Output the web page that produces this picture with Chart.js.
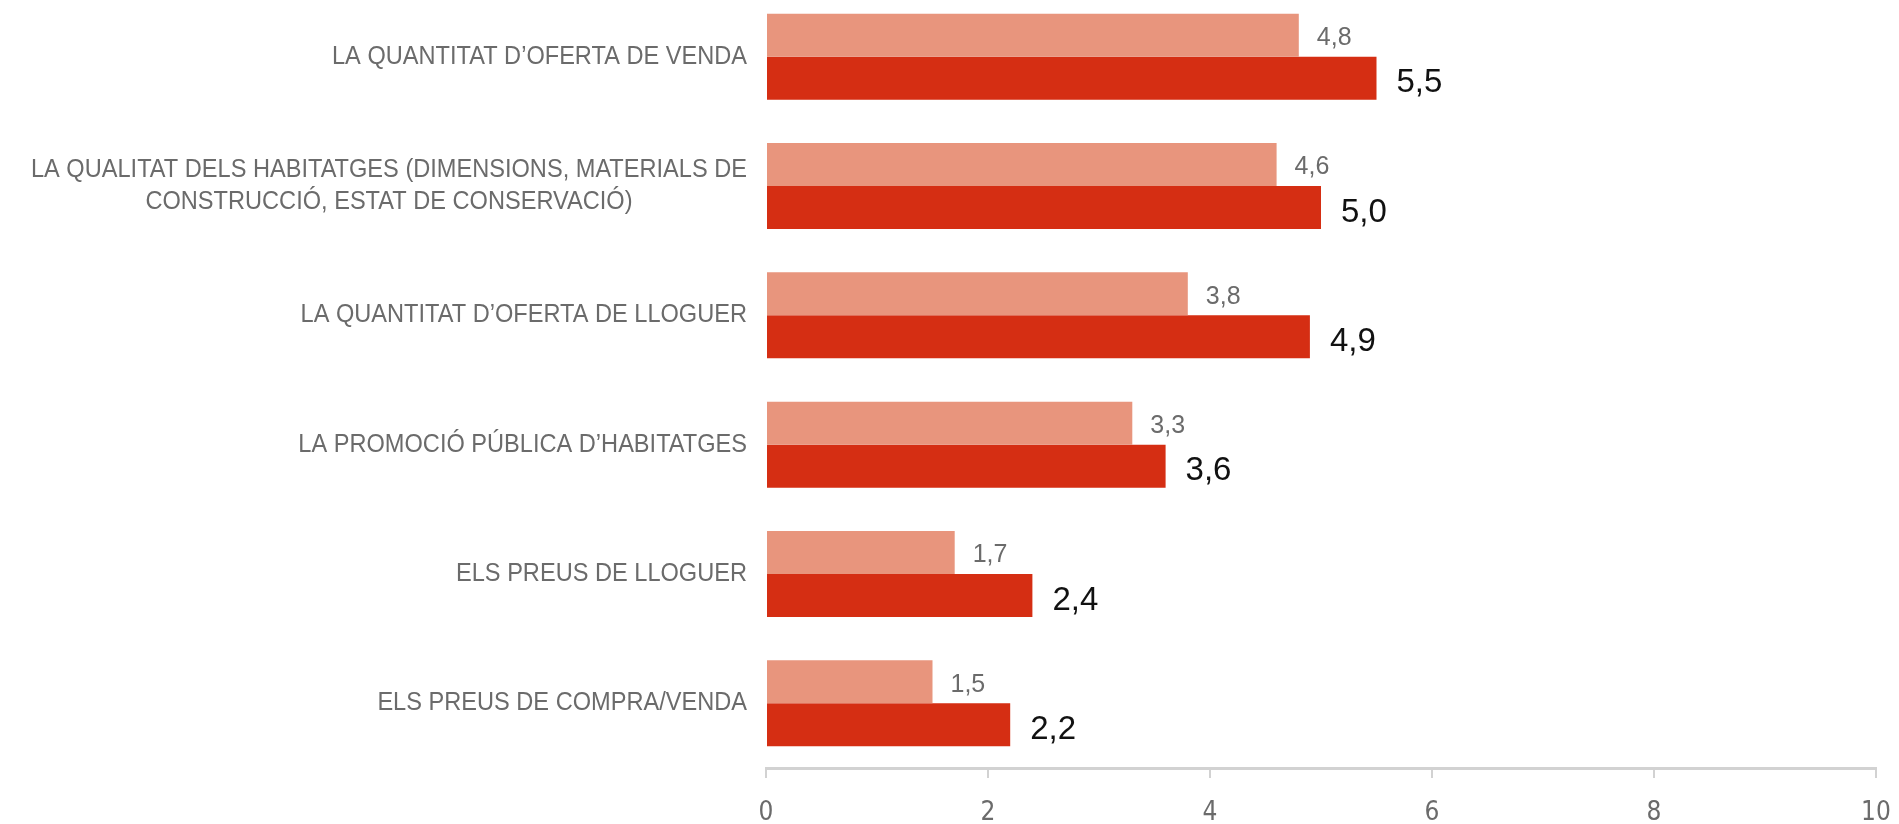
<!DOCTYPE html>
<html>
<head>
<meta charset="utf-8">
<script src="https://cdn.jsdelivr.net/npm/chart.js@4/dist/chart.umd.min.js"></script>
<style>
  html, body { margin: 0; padding: 0; background: #fff; overflow: hidden; }
  #wrap { position: absolute; left: 0; top: -8px; width: 1899px; height: 832px; }
</style>
</head>
<body>
<div id="wrap"><canvas id="chart"></canvas></div>
<script>
// Categories (one label may span two lines)
const categories = [
    ['LA QUANTITAT D’OFERTA DE VENDA'],
    ['LA QUALITAT DELS HABITATGES (DIMENSIONS, MATERIALS DE', 'CONSTRUCCIÓ, ESTAT DE CONSERVACIÓ)'],
    ['LA QUANTITAT D’OFERTA DE LLOGUER'],
    ['LA PROMOCIÓ PÚBLICA D’HABITATGES'],
    ['ELS PREUS DE LLOGUER'],
    ['ELS PREUS DE COMPRA/VENDA']
];
// Series values
const seriesLight = [4.8, 4.6, 3.8, 3.3, 1.7, 1.5];
const seriesDark = [5.5, 5.0, 4.9, 3.6, 2.4, 2.2];
// Axis ticks
const xTicks = [0, 2, 4, 6, 8, 10];

const colors = {
    light: '#e8957d',
    dark: '#d52e13',
    grey: '#6b6b6b',
    axis: '#d2d2d2'
};

const fmt = v => v.toFixed(1).replace('.', ',');

// Value labels at the end of each bar
const valueLabels = {
    id: 'valueLabels',
    afterDatasetsDraw(chart) {
        const ctx = chart.ctx;
        ctx.save();
        ctx.textAlign = 'left';
        ctx.textBaseline = 'middle';
        chart.data.datasets.forEach((ds, di) => {
            const meta = chart.getDatasetMeta(di);
            meta.data.forEach((bar, i) => {
                if (di === 0) {
                    ctx.font = '25px "Liberation Sans", Arial, sans-serif';
                    ctx.fillStyle = colors.grey;
                    ctx.fillText(fmt(ds.data[i]), bar.x + 18, bar.y + 3);
                } else {
                    ctx.font = '33px "Liberation Sans", Arial, sans-serif';
                    ctx.fillStyle = '#111';
                    ctx.fillText(fmt(ds.data[i]), bar.x + 20, bar.y + 5);
                }
            });
        });
        ctx.restore();
    }
};

// Category labels, condensed and centred as a block, right edge near the axis
const categoryLabels = {
    id: 'categoryLabels',
    afterDraw(chart) {
        const ctx = chart.ctx;
        const yScale = chart.scales.y;
        const right = chart.chartArea.left - 19;
        ctx.save();
        ctx.font = '25px "Liberation Sans", Arial, sans-serif';
        ctx.fillStyle = colors.grey;
        ctx.textBaseline = 'middle';
        ctx.textAlign = 'center';
        const sx = 415 / ctx.measureText(categories[0][0]).width;
        const lineH = 31.5;
        categories.forEach((lines, i) => {
            const y = yScale.getPixelForValue(i);
            const w = Math.max(...lines.map(l => ctx.measureText(l).width)) * sx;
            const cx = right - w / 2;
            lines.forEach((line, li) => {
                const ly = y + (li - (lines.length - 1) / 2) * lineH;
                ctx.save();
                ctx.translate(cx, ly);
                ctx.scale(sx, 1);
                ctx.fillText(line, 0, 0);
                ctx.restore();
            });
        });
        ctx.restore();
    }
};

new Chart(document.getElementById('chart'), {
    type: 'bar',
    data: {
        labels: categories.map(c => c.join(' ')),
        datasets: [
            {
                label: 'Sèrie 1',
                data: seriesLight,
                backgroundColor: colors.light,
                categoryPercentage: 0.665,
                barPercentage: 1
            },
            {
                label: 'Sèrie 2',
                data: seriesDark,
                backgroundColor: colors.dark,
                categoryPercentage: 0.665,
                barPercentage: 1
            }
        ]
    },
    options: {
        indexAxis: 'y',
        responsive: true,
        maintainAspectRatio: false,
        animation: false,
        layout: { padding: { top: 0, right: 23, bottom: 0, left: 0 } },
        plugins: {
            legend: { display: false },
            tooltip: { enabled: false }
        },
        scales: {
            x: {
                min: 0,
                max: 10,
                afterBuildTicks: scale => {
                    scale.ticks = xTicks.map(v => ({ value: v }));
                },
                afterFit: scale => {
                    scale.height = 56;
                    scale.paddingLeft = 0;
                    scale.paddingRight = 0;
                },
                border: { display: true, color: colors.axis, width: 3 },
                grid: {
                    display: true,
                    drawOnChartArea: false,
                    drawTicks: true,
                    tickLength: 10,
                    color: colors.axis,
                    lineWidth: 2
                },
                ticks: {
                    padding: 20,
                    color: colors.grey,
                    font: { family: '"Liberation Sans Narrow", "DejaVu Sans Condensed", sans-serif', size: 26 }
                }
            },
            y: {
                afterFit: scale => { scale.width = 766; },
                border: { display: false },
                grid: { display: false, drawTicks: false },
                ticks: { display: false }
            }
        }
    },
    plugins: [valueLabels, categoryLabels]
});
</script>
</body>
</html>
